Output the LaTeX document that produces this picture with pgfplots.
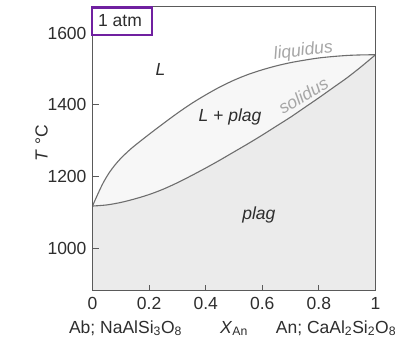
\documentclass[border=0pt]{standalone}
\usepackage{fontspec}
\setmainfont{Liberation Sans}
\usepackage{pgfplots}
\pgfplotsset{compat=1.18}
\definecolor{axisgray}{HTML}{5A5A5A}
\definecolor{labelgray}{HTML}{2E2E2E}
\definecolor{curvegray}{HTML}{6E6E6E}
\definecolor{plagfill}{HTML}{EBEBEB}
\definecolor{lpfill}{HTML}{F7F7F7}
\definecolor{namegray}{HTML}{A6A6A6}
\definecolor{atmpurple}{HTML}{7020A0}
\pgfplotstableread{
x T
0     1118
0.01  1136
0.025 1162
0.04  1186
0.06  1212
0.08  1233
0.1   1251
0.125 1270
0.15  1287
0.2   1318
0.25  1348
0.3   1377
0.35  1404
0.4   1428
0.45  1450
0.5   1469
0.55  1485
0.6   1498
0.65  1509
0.7   1518
0.75  1525
0.8   1531
0.85  1535
0.9   1538
0.95  1539.5
1     1540
}\liquidus
\pgfplotstableread{
x T
0     1118
0.05  1121
0.1   1128
0.15  1138
0.2   1150
0.25  1165
0.3   1183
0.35  1203
0.4   1224
0.45  1246
0.5   1269
0.55  1292
0.6   1316
0.65  1341
0.7   1366
0.75  1393
0.8   1420
0.85  1448
0.9   1476
0.95  1507
1     1540
}\solidus
\begin{document}
\fontsize{17.5bp}{21bp}\selectfont
\begin{tikzpicture}[x=1bp,y=1bp]
\path[use as bounding box, fill=white] (0,0) rectangle (404,360);
\begin{axis}[
  at={(92.5bp,69bp)}, anchor=south west,
  width=283bp, height=284.3bp, scale only axis,
  xmin=0, xmax=1, ymin=881, ymax=1674,
  xtick={0,0.2,0.4,0.6,0.8,1},
  ytick={1000,1200,1400,1600},
  tick align=inside, xtick pos=bottom, ytick pos=left,
  axis line style={draw=axisgray, line width=1bp},
  major tick length=6bp,
  tick style={draw=axisgray, line width=1bp},
  /pgf/number format/assume math mode=true,
  /pgf/number format/1000 sep={},
  ticklabel style={font=\fontsize{17.5bp}{21bp}\selectfont, text=labelgray},
  axis on top,
]
\addplot[fill=lpfill, draw=none] table[x=x,y=T] {\liquidus} \closedcycle;
\addplot[fill=plagfill, draw=none] table[x=x,y=T] {\solidus} \closedcycle;
\addplot[curvegray, line width=1.1bp, smooth] table[x=x,y=T] {\liquidus};
\addplot[curvegray, line width=1.1bp, smooth] table[x=x,y=T] {\solidus};
\node[text=labelgray, font=\itshape] at (axis cs:0.24,1498) {L};
\node[text=labelgray, font=\itshape] at (axis cs:0.486,1366) {L + plag};
\node[text=labelgray, font=\itshape] at (axis cs:0.588,1093) {plag};
\node[text=namegray, font=\itshape, rotate=7] at (axis cs:0.745,1550) {liquidus};
\node[text=namegray, font=\itshape, rotate=31] at (axis cs:0.745,1426) {solidus};
\end{axis}
\draw[atmpurple, line width=2.5bp, fill=white] (92.2,325) rectangle (151.8,352.5);
\node[anchor=base, text=labelgray] at (120,333.3) {1 atm};
\node[anchor=base, text=labelgray] at (125.5,26.7) {Ab; NaAlSi\textsubscript{3}O\textsubscript{8}};
\node[anchor=base, text=labelgray] at (234,26.7) {\textit{X}\textsubscript{An}};
\node[anchor=base, text=labelgray] at (336,26.7) {An; CaAl\textsubscript{2}Si\textsubscript{2}O\textsubscript{8}};
\node[rotate=90, text=labelgray] at (41.7,217) {\textit{T} °C};
\end{tikzpicture}
\end{document}
